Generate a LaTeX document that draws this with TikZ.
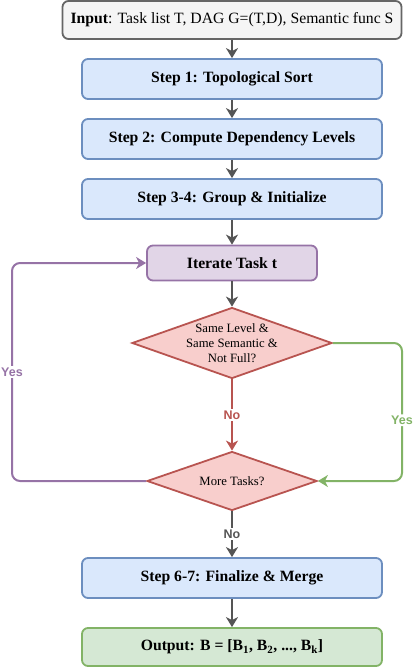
\documentclass[tikz,border=0pt]{standalone}
\usepackage{fontspec}
\setmainfont{Liberation Serif}
\newfontfamily\lblfont{Liberation Sans}
\usetikzlibrary{arrows.meta,shapes.geometric}
\definecolor{inFill}{HTML}{F5F5F5}
\definecolor{inDraw}{HTML}{666666}
\definecolor{stepFill}{HTML}{DAE8FC}
\definecolor{stepDraw}{HTML}{6C8EBF}
\definecolor{itFill}{HTML}{E1D5E7}
\definecolor{itDraw}{HTML}{9673A6}
\definecolor{condFill}{HTML}{F8CECC}
\definecolor{condDraw}{HTML}{B85450}
\definecolor{outFill}{HTML}{D5E8D4}
\definecolor{outDraw}{HTML}{82B366}
\definecolor{arrGray}{HTML}{555555}

\begin{document}
\begin{tikzpicture}[x=1pt, y=-1pt]
	  \tikzstyle{every node} = [font=\fontsize{15.7}{18}\selectfont, line width=1.8pt, inner sep=0pt]
	  \tikzstyle{box} = [rectangle, rounded corners=6pt, draw=stepDraw, fill=stepFill, minimum width=300pt, minimum height=40pt, font=\bfseries\fontsize{15.7}{18}\selectfont]
	  \tikzstyle{cond} = [diamond, draw=condDraw, fill=condFill]
	  \tikzstyle{ctext} = [align=center, font=\fontsize{12.7}{15}\selectfont]
	  \tikzstyle{lbl} = [font=\lblfont\bfseries\fontsize{12.5}{14}\selectfont, fill=white, inner sep=1.5pt]
	  \tikzstyle{flow} = [line width=2pt, draw=arrGray, -{Stealth[length=10pt, width=12pt, inset=3pt]}]
	  \useasboundingbox (0,0) rectangle (414,668);
	  \node[box, draw=inDraw, fill=inFill, minimum width=339pt, minimum height=38pt, font=\fontsize{15.7}{18}\selectfont] (in) at (232,20) {\textbf{Input}: Task list T, DAG G=(T,D), Semantic func S};
	  \node[box] (s1) at (232,79) {Step 1: Topological Sort};
	  \node[box] (s2) at (232,139) {Step 2: Compute Dependency Levels};
	  \node[box] (s3) at (232,199) {Step 3-4: Group \& Initialize};
	  \node[box, draw=itDraw, fill=itFill, minimum width=170pt, minimum height=35pt] (it) at (232,263) {Iterate Task t};
	  \node[cond, minimum width=200pt, minimum height=71pt, label={[ctext]center:Same Level \&\\Same Semantic \&\\Not Full?}] (d1) at (232,343) {};
	  \node[cond, minimum width=170pt, minimum height=59pt, label={[ctext]center:More Tasks?}] (d2) at (232,481) {};
	  \node[box] (s67) at (232,578) {Step 6-7: Finalize \& Merge};
	  \node[box, draw=outDraw, fill=outFill, minimum height=38pt] (out) at (232,647) {Output: B = [B\textsubscript{1}, B\textsubscript{2}, ..., B\textsubscript{k}]};
	  \coordinate (lft) at (12,0);
	  \coordinate (rgt) at (402,0);
	  \foreach \from/\to in {in/s1, s1/s2, s2/s3, s3/it, it/d1, s67/out}
	    \draw[flow] (\from) -- (\to);
	  \draw[flow, draw=condDraw] (d1) -- node[lbl, text=condDraw] {No} (d2);
	  \draw[flow] (d2) -- node[lbl, text=arrGray] {No} (s67);
	  \draw[flow, draw=outDraw, rounded corners=8pt] (d1.east) -- (d1.east -| rgt) -- node[lbl, pos=0.56, text=outDraw] {Yes} (d2.east -| rgt) -- (d2.east);
	  \draw[flow, draw=itDraw, rounded corners=8pt] (d2.west) -- (d2.west -| lft) -- node[lbl, text=itDraw] {Yes} (it.west -| lft) -- (it.west);
	\end{tikzpicture}
\end{document}
